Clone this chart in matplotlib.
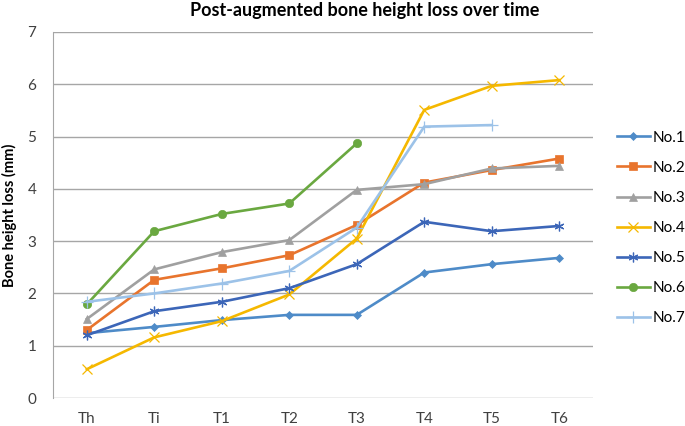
import matplotlib
matplotlib.use("Agg")
import matplotlib.pyplot as plt

plt.rcParams['font.family'] = ['Lato', 'DejaVu Sans']

categories = ["Th", "Ti", "T1", "T2", "T3", "T4", "T5", "T6"]
no1 = [1.24, 1.36, 1.49, 1.59, 1.59, 2.40, 2.56, 2.68]
no2 = [1.30, 2.26, 2.48, 2.73, 3.31, 4.12, 4.36, 4.58]
no3 = [1.51, 2.46, 2.79, 3.02, 3.98, 4.09, 4.39, 4.44]
no4 = [0.55, 1.16, 1.47, 1.98, 3.05, 5.51, 5.97, 6.08]
no5 = [1.20, 1.66, 1.84, 2.10, 2.56, 3.37, 3.19, 3.29]
no6 = [1.79, 3.19, 3.52, 3.72, 4.87]
no7 = [1.84, 2.00, 2.19, 2.43, 3.26, 5.19, 5.22]
names = ["No.1", "No.2", "No.3", "No.4", "No.5", "No.6", "No.7"]

series = [no1, no2, no3, no4, no5, no6, no7]
colors = ["#4E8BC8", "#E8742D", "#A0A0A0", "#F5B800", "#3C66B8", "#6AA840", "#9CC2E8"]
markers = ["D", "s", "^", "x", (6, 2, 0), "o", "+"]
msizes = [4.5, 6, 6, 7, 7, 6, 8]

fig = plt.figure(figsize=(6.85, 4.26), dpi=100)
ax = fig.add_axes([0.0774, 0.0657, 0.7883, 0.8592])

x = list(range(len(categories)))
for vals, name, c, m, ms in zip(series, names, colors, markers, msizes):
    ax.plot(x[:len(vals)], vals, color=c, lw=1.9, marker=m, markersize=ms,
            markeredgewidth=0.9 if m in ("x", "+") or isinstance(m, tuple) else 0.5,
            markeredgecolor=c, markerfacecolor=c, label=name)

ax.set_xlim(-0.5, len(categories) - 0.5)
ax.set_ylim(0, 7)
ax.set_yticks(range(0, 8))
ax.set_xticks(x)
ax.set_xticklabels(categories)
ax.yaxis.grid(True, color="#A6A6A6", lw=1)
ax.set_axisbelow(True)
for s in ["top", "right", "bottom"]:
    ax.spines[s].set_visible(False)
ax.spines["left"].set_color("#A6A6A6")
ax.tick_params(axis="both", length=0, labelsize=11, colors="#404040")
ax.tick_params(axis="y", pad=12)
ax.tick_params(axis="x", pad=10)

ax.set_ylabel("Bone height loss (mm)", fontsize=10.5, fontweight="bold")
ax.yaxis.set_label_coords(-0.066, 0.5)
fig.text(0.533, 0.975, "Post-augmented bone height loss over time", ha="center", va="center",
         fontsize=13, fontweight="bold")

leg = fig.legend(loc="center left", bbox_to_anchor=(0.9, 0.465), frameon=False,
                 fontsize=11, handlelength=2.2, handletextpad=0.15, labelspacing=1.05,
                 borderaxespad=0, borderpad=0)

fig.savefig("out.png", dpi=100)
